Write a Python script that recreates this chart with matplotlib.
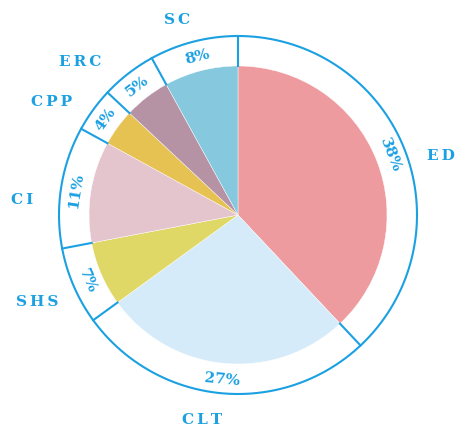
import matplotlib.pyplot as plt
import numpy as np

# data, clockwise from the top
labels = ["ED", "CLT", "SHS", "CI", "CPP", "ERC", "SC"]
shares = [38, 27, 7, 11, 4, 5, 8]
colors = ["#EE9B9F", "#D6EBF9", "#DFD766", "#E4C5CD", "#E6C253", "#B692A5", "#86C9DE"]

# label positions (pixels, figure coords from top-left)
label_pos = {"ED": (441, 156), "CLT": (202, 420), "SHS": (37, 302), "CI": (22, 200),
             "CPP": (52, 102), "ERC": (80, 62), "SC": (177, 20)}

blue = "#1BA0E2"
W, H = 456, 427
cx, cy = 238, H - 216
r_pie = 149
r_out = 179

fig = plt.figure(figsize=(W / 100, H / 100), dpi=100)
ax = fig.add_axes([0, 0, 1, 1])

ax.pie(shares, colors=colors, startangle=90, counterclock=False,
       radius=r_pie, center=(cx, cy),
       wedgeprops=dict(edgecolor="white", linewidth=0.3))

# outer ring
t = np.linspace(0, 2 * np.pi, 400)
ax.plot(cx + r_out * np.cos(t), cy + r_out * np.sin(t), color=blue, lw=1.5)

cum = np.cumsum([0] + shares)
for i, s in enumerate(shares):
    a0 = np.deg2rad(90 - 3.6 * cum[i])
    ax.plot([cx + r_pie * np.cos(a0), cx + r_out * np.cos(a0)],
            [cy + r_pie * np.sin(a0), cy + r_out * np.sin(a0)], color=blue, lw=1.5)
    mid = 90 - 3.6 * (cum[i] + s / 2)
    mid = (mid + 180) % 360 - 180
    rot = mid - 90 if mid > 0 else mid + 90
    rm = (r_pie + r_out) / 2
    ax.text(cx + rm * np.cos(np.deg2rad(mid)), cy + rm * np.sin(np.deg2rad(mid)),
            f"{s}%", rotation=rot, rotation_mode="anchor", ha="center", va="center",
            color=blue, fontsize=11, fontweight="bold", fontstyle="normal",
            family="DejaVu Serif")

for name in labels:
    x, y = label_pos[name]
    ax.text(x, H - y, "\u2009".join(name), ha="center", va="center", color=blue,
            fontsize=11, fontweight="bold", fontstyle="normal", family="DejaVu Serif")

ax.set_xlim(0, W)
ax.set_ylim(0, H)
ax.set_aspect("equal")
ax.axis("off")
fig.savefig("out.png", dpi=100)
